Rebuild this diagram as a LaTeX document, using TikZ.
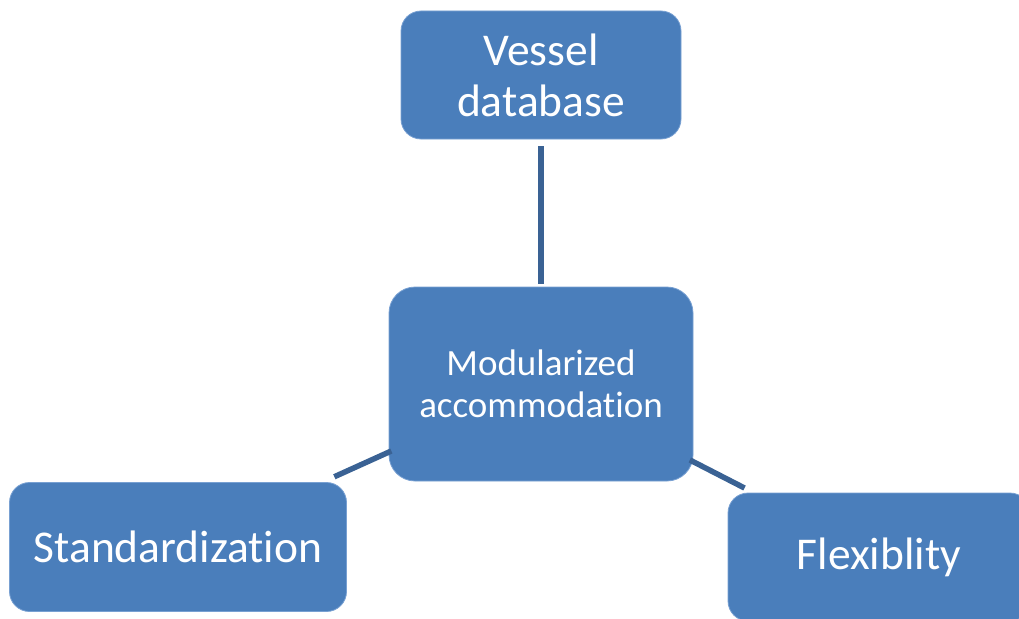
\documentclass[tikz,border=0pt]{standalone}
\usepackage{fontspec}
\setmainfont{Carlito}[Ligatures=NoCommon]
\definecolor{boxblue}{RGB}{74,126,187}
\definecolor{boxedge}{RGB}{120,160,210}
\definecolor{linkblue}{RGB}{58,98,148}
\tikzset{
    box/.style={draw=boxedge, line width=0.8pt, fill=boxblue, rounded corners=20pt,
        text=white, align=center, inner sep=0pt},
    bigbox/.style={box, font=\fontsize{45.5}{51}\selectfont},
    hubbox/.style={box, rounded corners=26pt, font=\fontsize{37}{42}\selectfont},
    link/.style={draw=linkblue, line width=5.5pt}
}

\begin{document}
\begin{tikzpicture}[x=1pt, y=-1pt]
    \useasboundingbox (0,0) rectangle (1019,618);
    \clip (0,0) rectangle (1019,618);

    % hub and its three satellites
    \node[hubbox, minimum width=304pt, minimum height=194pt] (modular) at (541,384) {Modularized\\accommodation};
    \node[bigbox, minimum width=280pt, minimum height=128pt] (vessel) at (541,75) {Vessel\\database};
    \node[bigbox, minimum width=337pt, minimum height=129pt] (standard) at (178,547) {Standardization};
    \node[bigbox, minimum width=302pt, minimum height=128pt] (flex) at (879,557) {Flexiblity};

    \draw[link, shorten <=7pt, shorten >=3pt] (vessel) -- (modular);
    \draw[link, shorten <=-3pt, shorten >=13pt] (modular) -- (standard);
    \draw[link, shorten <=-4pt, shorten >=10pt] (modular) -- (flex);
\end{tikzpicture}
\end{document}
